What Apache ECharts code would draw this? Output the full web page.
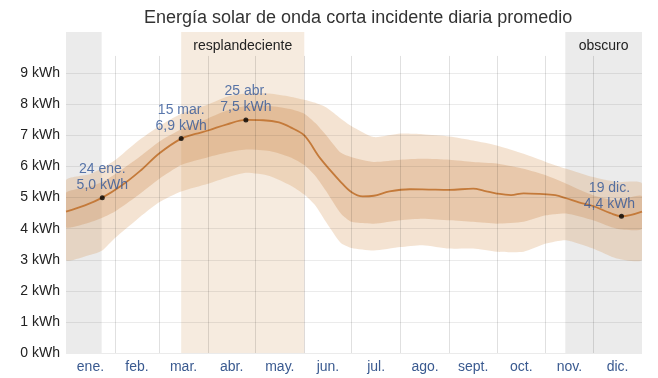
<!DOCTYPE html>
<html><head><meta charset="utf-8">
<script src="https://cdn.jsdelivr.net/npm/echarts@6/dist/echarts.min.js"></script>
<style>html,body{margin:0;padding:0;background:#fff}#c{width:658px;height:378px}</style>
</head><body><div id="c"></div>
<script>
const titleText = 'Energía solar de onda corta incidente diaria promedio';
const months = ['ene.','feb.','mar.','abr.','may.','jun.','jul.','ago.','sept.','oct.','nov.','dic.'];
const monthMid = [15.5,45,74.5,105,135.5,166,196.5,227.5,258,288.5,319,349.5];
const monthStart = [31,59,90,120,151,181,212,243,273,304,334];
const yTicks = [0,1,2,3,4,5,6,7,8,9];

const bandDays = [0,15,23,31,45,59,73,90,102,114,129,142,151,158,165,174,181,195,212,226,243,258,273,290,304,317,334,349,365];
const p10 = [3.0,3.15,3.3,3.7,4.3,4.85,5.2,5.45,5.65,5.8,5.7,5.4,5.1,4.75,4.2,3.55,3.38,3.3,3.41,3.47,3.36,3.36,3.26,3.26,3.52,3.63,3.36,3.04,3.0];
const p25 = [4.05,4.2,4.35,4.55,5.05,5.6,6.05,6.3,6.45,6.55,6.5,6.3,6.05,5.7,5.2,4.5,4.22,4.16,4.27,4.32,4.27,4.22,4.16,4.22,4.43,4.49,4.27,4.0,4.0];
const p75 = [5.15,5.35,5.5,5.75,6.25,6.8,7.2,7.55,7.8,7.95,7.95,7.85,7.7,7.4,7.0,6.45,6.3,6.15,6.22,6.25,6.22,6.15,6.1,5.93,5.72,5.45,5.08,4.91,5.05];
const p90 = [5.55,5.75,5.95,6.2,6.8,7.3,7.7,8.0,8.25,8.35,8.35,8.25,8.15,8.05,7.9,7.55,7.3,6.95,7.06,7.04,6.97,6.84,6.68,6.41,6.15,5.93,5.66,5.5,5.45];

const medDays = [0,12,23,35,47,59,73,82,90,102,114,125,135,142,151,161,174,181,188,195,205,218,230,243,258,265,273,282,290,300,310,317,325,334,345,352,365];
const median = [4.55,4.75,5.0,5.38,5.86,6.42,6.9,7.05,7.16,7.36,7.5,7.49,7.42,7.27,7.0,6.27,5.51,5.17,5.04,5.06,5.2,5.27,5.26,5.25,5.29,5.22,5.13,5.08,5.14,5.12,5.08,4.98,4.85,4.73,4.5,4.4,4.55];

const markDays = [23,73,114,352];
const markVals = [5.0,6.9,7.5,4.4];
const markDates = ['24 ene.','15 mar.','25 abr.','19 dic.'];
const markTexts = ['5,0 kWh','6,9 kWh','7,5 kWh','4,4 kWh'];

const darkPeriods = [[0,22.6],[316.4,365]];
const brightPeriod = [73,151];
const darkLabel = 'obscuro';
const brightLabel = 'resplandeciente';

const YMAX = 10.33, VTOP = 9.56;
const pairs = (xs, ys) => xs.map((x,i)=>[x, ys[i]]);
const FONT = 'Liberation Sans, Arial, sans-serif';

function bandSeries(lower, upper, color, z){
  return {type:'custom', z:z, silent:true, data:[0], clip:true,
    renderItem:(params, api)=>{
      const pts=[];
      for(let i=0;i<bandDays.length;i++) pts.push(api.coord([bandDays[i], upper[i]]));
      for(let i=bandDays.length-1;i>=0;i--) pts.push(api.coord([bandDays[i], lower[i]]));
      return {type:'polygon', shape:{points:pts, smooth:0.2}, style:{fill:color}};
    }};
}

const chart = echarts.init(document.getElementById('c'), null, {renderer:'canvas'});
chart.setOption({
  animation:false,
  textStyle:{fontFamily:FONT},
  title:{text:titleText, left:139, top:4, textStyle:{fontSize:18, fontWeight:'normal', color:'#333', fontFamily:FONT}},
  grid:{left:66, right:16, top:32, bottom:25},
  xAxis:{type:'value', min:0, max:365, axisLine:{show:false}, axisTick:{show:false}, splitLine:{show:false},
    axisLabel:{customValues:monthMid, color:'#3a5a90', fontSize:14, margin:7,
      formatter:(v)=>{let b=0;monthMid.forEach((m,k)=>{if(Math.abs(m-v)<Math.abs(monthMid[b]-v))b=k;}); return months[b];}}},
  yAxis:{type:'value', min:0, max:YMAX, interval:1, axisLine:{show:false}, axisTick:{show:false}, splitLine:{show:false},
    axisLabel:{color:'#222', fontSize:14, margin:6, formatter:(v)=> v<=9 ? v+' kWh' : ''}},
  series:[
    {type:'line', data:[[0,0]], symbol:'none', lineStyle:{opacity:0}, z:1, silent:true,
      markArea:{silent:true, data:[
        [{xAxis:darkPeriods[0][0], yAxis:0, itemStyle:{color:'#ebebeb', opacity:1}}, {xAxis:darkPeriods[0][1], yAxis:YMAX}],
        [{xAxis:darkPeriods[1][0], yAxis:0, name:darkLabel, itemStyle:{color:'#ebebeb', opacity:1}}, {xAxis:darkPeriods[1][1], yAxis:YMAX}],
        [{xAxis:brightPeriod[0], yAxis:0, name:brightLabel, itemStyle:{color:'#f6ebdf', opacity:1}}, {xAxis:brightPeriod[1], yAxis:YMAX}]
      ], label:{show:true, position:'insideTop', distance:7, color:'#222', fontSize:14, fontFamily:FONT}}},
    {type:'line', data:[[0,0]], symbol:'none', lineStyle:{opacity:0}, z:2, silent:true,
      markLine:{silent:true, symbol:['none','none'], label:{show:false},
        data:[].concat(
          monthStart.map(d=>[{coord:[d,0], lineStyle:{color:'rgba(0,0,0,0.12)', width:1, type:'solid'}},{coord:[d,VTOP]}]),
          yTicks.map(v=>[{coord:[0,v], lineStyle:{color:'rgba(0,0,0,0.08)', width:1, type:'solid'}},{coord:[365,v]}])
        )}},
    bandSeries(p10, p90, 'rgba(214,150,90,0.27)', 3),
    bandSeries(p25, p75, 'rgba(200,128,66,0.27)', 3),
    {type:'line', data:pairs(medDays,median), symbol:'none', smooth:0.35, lineStyle:{color:'#c47a3a', width:1.8}, z:4, silent:true},
    {type:'scatter', z:5, symbolSize:5, itemStyle:{color:'#000'}, silent:true,
      data:markDays.map((d,i)=>({value:[d,markVals[i]], label:{offset: i===3?[-12,0]:[0,0]}})),
      label:{show:true, position:'top', distance:2, color:'#2f5597', fontSize:14, lineHeight:16, fontFamily:FONT,
        formatter:(p)=>markDates[p.dataIndex]+'\n'+markTexts[p.dataIndex]}}
  ]
});
</script></body></html>
